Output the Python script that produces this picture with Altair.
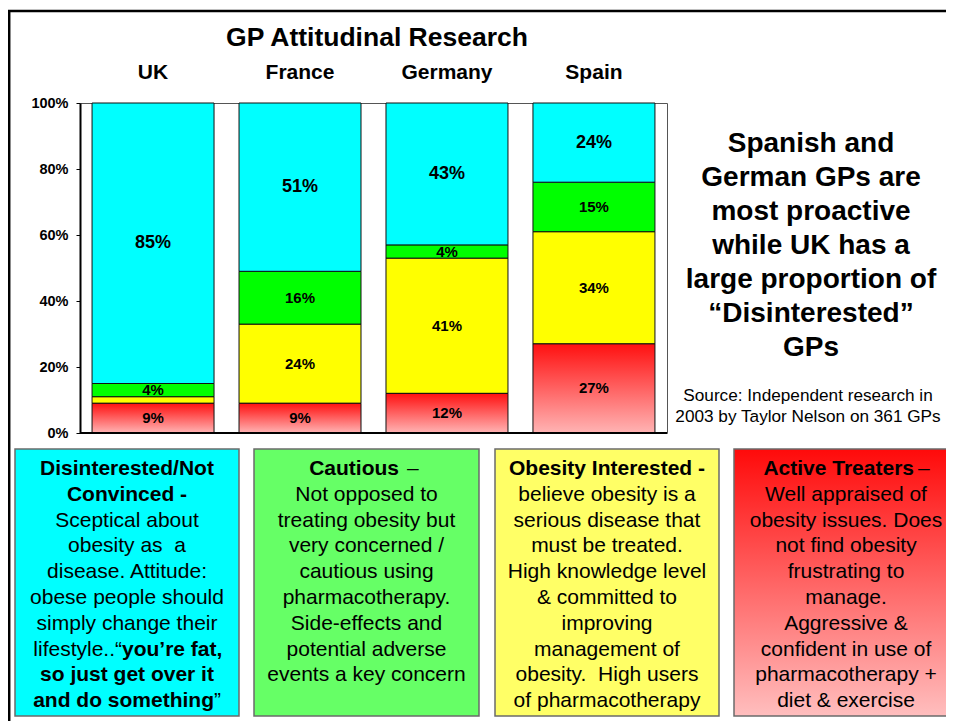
import altair as alt
import pandas as pd

# ---------------- data ----------------
countries = ["UK", "France", "Germany", "Spain"]
segments = ["Active Treaters", "Obesity Interested", "Cautious", "Disinterested/Not Convinced"]
active_treaters = [9, 9, 12, 27]
obesity_interested = [2, 24, 41, 34]
cautious = [4, 16, 4, 15]
disinterested = [85, 51, 43, 24]
y_ticks = [0, 20, 40, 60, 80, 100]

title_text = "GP Attitudinal Research"
headline_lines = ["Spanish and", "German GPs are", "most proactive", "while UK has a",
                  "large proportion of", "\u201cDisinterested\u201d", "GPs"]
source_lines = ["Source: Independent research in", "2003 by Taylor Nelson on 361 GPs"]

B, N = "bold", "normal"
box_cyan = [
    [("Disinterested/Not", B)],
    [("Convinced -", B)],
    [("Sceptical about", N)],
    [("obesity as \u00a0a", N)],
    [("disease. Attitude:", N)],
    [("obese people should", N)],
    [("simply change their", N)],
    [("lifestyle..\u201c", N), ("you\u2019re fat,", B)],
    [("so just get over it", B)],
    [("and do something", B), ("\u201d", N)],
]
box_green = [
    [("Cautious", B), ("\u2013", N)],
    [("Not opposed to", N)],
    [("treating obesity but", N)],
    [("very concerned /", N)],
    [("cautious using", N)],
    [("pharmacotherapy.", N)],
    [("Side-effects and", N)],
    [("potential adverse", N)],
    [("events a key concern", N)],
]
box_yellow = [
    [("Obesity Interested -", B)],
    [("believe obesity is a", N)],
    [("serious disease that", N)],
    [("must be treated.", N)],
    [("High knowledge level", N)],
    [("& committed to", N)],
    [("improving", N)],
    [("management of", N)],
    [("obesity.\u00a0 High users", N)],
    [("of pharmacotherapy", N)],
]
box_red = [
    [("Active Treaters", B), ("\u2013", N)],
    [("Well appraised of", N)],
    [("obesity issues. Does", N)],
    [("not find obesity", N)],
    [("frustrating to", N)],
    [("manage.", N)],
    [("Aggressive &", N)],
    [("confident in use of", N)],
    [("pharmacotherapy +", N)],
    [("diet & exercise", N)],
]

# ---------------- table for the bars ----------------
rows = []
for i, c in enumerate(countries):
    vals = [active_treaters[i], obesity_interested[i], cautious[i], disinterested[i]]
    acc = 0
    for s, v in zip(segments, vals):
        rows.append({"country": c, "segment": s, "value": v, "y0": acc, "y1": acc + v,
                     "mid": acc + v / 2, "label": f"{v}%",
                     "fs": 18 if s == segments[3] else 15})
        acc += v
df = pd.DataFrame(rows)

SANS = "Liberation Sans, Arial, sans-serif"

W, H = 587, 330

xenc = alt.X("country:N", sort=countries,
             scale=alt.Scale(paddingInner=0.17, paddingOuter=0.082),
             axis=alt.Axis(orient="top", title=None, ticks=False, domain=False,
                           labelAngle=0, labelFont=SANS, labelFontSize=21,
                           labelFontWeight="bold", labelColor="black",
                           labelPadding=25, labelBaseline="alphabetic"))
yenc = alt.Y("y0:Q", scale=alt.Scale(domain=[0, 100], nice=False),
             axis=alt.Axis(values=y_ticks, labelExpr="datum.value + '%'", title=None,
                           grid=False, tickSize=4, tickColor="black", tickWidth=1,
                           domainColor="black", domainWidth=2, labelPadding=8,
                           labelFont=SANS, labelFontSize=14.5, labelFontWeight="bold",
                           labelColor="black"))

base = alt.Chart(df)

bars = base.transform_filter(alt.datum.segment != segments[0]).mark_bar(
    stroke="#111", strokeWidth=1).encode(
    x=xenc, y=yenc, y2="y1:Q",
    color=alt.Color("segment:N",
                    scale=alt.Scale(domain=segments[1:], range=["#FFFF00", "#00FF00", "#00FFFF"]),
                    legend=None))

red_grad = alt.Gradient(gradient="linear",
                        stops=[alt.GradientStop(offset=0, color="#FF1010"),
                               alt.GradientStop(offset=1, color="#FFB4B4")],
                        x1=0, x2=0, y1=0, y2=1)
red_bars = base.transform_filter(alt.datum.segment == segments[0]).mark_bar(
    fill=red_grad, stroke="#111", strokeWidth=1).encode(
    x=alt.X("country:N", sort=countries), y="y0:Q", y2="y1:Q")

labels = base.transform_filter(alt.datum.value >= 3).mark_text(
    font=SANS, fontWeight="bold", color="black", baseline="middle").encode(
    x=alt.X("country:N", sort=countries), y="mid:Q", text="label:N",
    size=alt.Size("fs:Q", scale=None))

one = pd.DataFrame({"a": [0]})
bottom_rule = alt.Chart(one).mark_rule(color="black", strokeWidth=2).encode(
    x=alt.value(0), x2=alt.value(W), y=alt.value(H))


def txt(s, x, y, size, weight="normal", align="center", font=SANS):
    return alt.Chart(pd.DataFrame({"t": [s]})).mark_text(
        align=align, baseline="middle", fontSize=size, fontWeight=weight,
        font=font, color="black").encode(x=alt.value(x), y=alt.value(y), text="t:N")


def rect(x1, x2, y1, y2, fill, stroke="#6b6b6b", sw=1.5):
    return alt.Chart(one).mark_rect(fill=fill, stroke=stroke, strokeWidth=sw).encode(
        x=alt.value(x1), x2=alt.value(x2), y=alt.value(y1), y2=alt.value(y2))


layers = []
# slide frame
layers.append(alt.Chart(one).mark_rect(fill="white", fillOpacity=0, stroke="black",
                                       strokeWidth=2.5).encode(
    x=alt.value(-70.8), x2=alt.value(950), y=alt.value(-92), y2=alt.value(700)))

layers += [bars, red_bars, labels, bottom_rule]

# title
layers.append(txt(title_text, 297, -65, 26.5, B))
# headline text on the right
for i, line in enumerate(headline_lines):
    layers.append(txt(line, 731, 41 + 34 * i, 28, B))
for i, line in enumerate(source_lines):
    layers.append(txt(line, 728, 293 + 21 * i, 17.2))

# boxes
box_red_grad = alt.Gradient(gradient="linear",
                            stops=[alt.GradientStop(offset=0, color="#FF0A0A"),
                                   alt.GradientStop(offset=1, color="#FFBEBE")],
                            x1=0, x2=0, y1=0, y2=1)
# (lines, box x-range, fill, {line index: (split x, gap)})
boxes = [
    (box_cyan, (-65, 159), "#00FFFF", {7: (42, 0), 9: (134, 0)}),
    (box_green, (174, 399), "#66FF66", {0: (319, 8)}),
    (box_yellow, (415, 639), "#FFFF66", {}),
    (box_red, (654, 878), box_red_grad, {0: (834, 4)}),
]
BY1, BY2 = 346, 613
LINE0, STEP, FS = 366, 25.8, 21
for lines, (bx1, bx2), fill, splits in boxes:
    layers.append(rect(bx1, bx2, BY1, BY2, fill))
    cx = (bx1 + bx2) / 2
    for li, parts in enumerate(lines):
        yy = LINE0 + STEP * li
        if len(parts) == 1:
            layers.append(txt(parts[0][0], cx, yy, FS, parts[0][1]))
        else:
            sx, gap = splits[li]
            layers.append(txt(parts[0][0], sx, yy, FS, parts[0][1], align="right"))
            layers.append(txt(parts[1][0], sx + gap, yy, FS, parts[1][1], align="left"))

chart = alt.layer(*layers).properties(
    width=W, height=H,
    autosize=alt.AutoSizeParams(type="none"),
    padding={"left": 72, "top": 95, "right": 279, "bottom": 288},
    background="white",
).configure_view(stroke="#555", strokeWidth=1)

chart.save("out.html", embed_options={"renderer": "svg", "actions": False})
